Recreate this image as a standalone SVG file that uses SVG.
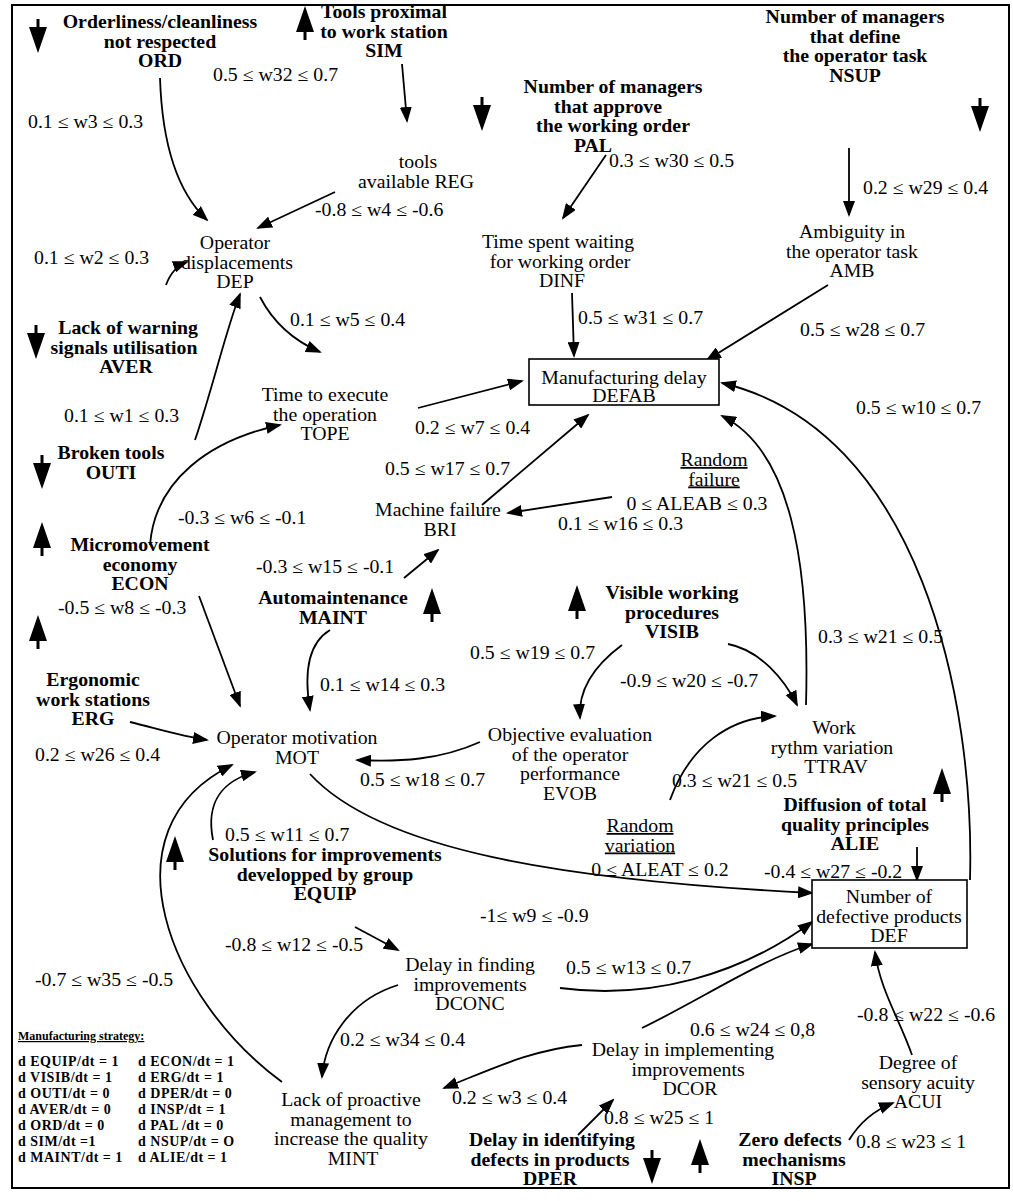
<svg xmlns="http://www.w3.org/2000/svg" xmlns:xlink="http://www.w3.org/1999/xlink" width="1013" height="1201" viewBox="0 0 1013 1201">
<style>
text{font-family:"Liberation Serif","Times New Roman",serif;font-size:18px;fill:#000}
.b{font-weight:bold}
.m{text-anchor:middle}
.u{text-decoration:underline}
.s{font-size:14px;font-weight:bold;letter-spacing:0.5px}
.h{font-size:12px;font-weight:bold;text-decoration:underline}
.c path{fill:none;stroke:#000;stroke-width:1.8}
.box{fill:#fff;stroke:#000;stroke-width:1.6}
</style>
<defs>
<marker id="a" markerUnits="userSpaceOnUse" markerWidth="16" markerHeight="12" refX="14" refY="6" orient="auto"><path d="M0,0 L16,6 L0,12 Z" fill="#000"/></marker>
<path id="up" d="M0,-18 L9,8 L-9,8 Z M-1.5,8 H1.5 V16 H-1.5 Z" fill="#000"/>
<path id="dn" d="M0,18 L9,-8 L-9,-8 Z M-1.5,-8 H1.5 V-16 H-1.5 Z" fill="#000"/>
</defs>
<rect width="1013" height="1201" fill="#fff"/>
<rect x="12" y="5" width="997" height="1183" fill="none" stroke="#000" stroke-width="2"/>

<g id="indicators">
<use href="#dn" x="38" y="35"/>
<use href="#up" x="305" y="24"/>
<use href="#dn" x="482" y="113"/>
<use href="#dn" x="980" y="114"/>
<use href="#dn" x="36" y="341"/>
<use href="#dn" x="42" y="471"/>
<use href="#up" x="42" y="540"/>
<use href="#up" x="432" y="606"/>
<use href="#up" x="577" y="603"/>
<use href="#up" x="38" y="633"/>
<use href="#up" x="942" y="786"/>
<use href="#up" x="175" y="854"/>
<use href="#dn" x="652" y="1166"/>
<use href="#up" x="700" y="1157"/>
</g>

<g id="connectors" class="c">
<path d="M402,64 L407,121" marker-end="url(#a)"/>
<path d="M160,78 C162,140 175,190 207,220" marker-end="url(#a)"/>
<path d="M335,192 L258,228" marker-end="url(#a)"/>
<path d="M166,285 C170,274 176,266 187,262" marker-end="url(#a)"/>
<path d="M195,440 C212,390 226,330 240,294" marker-end="url(#a)"/>
<path d="M260,297 C272,320 292,340 320,352" marker-end="url(#a)"/>
<path d="M418,408 L522,381" marker-end="url(#a)"/>
<path d="M482,505 L588,415" marker-end="url(#a)"/>
<path d="M612,497 L508,513" marker-end="url(#a)"/>
<path d="M150,545 C155,480 210,440 280,425" marker-end="url(#a)"/>
<path d="M404,578 L438,550" marker-end="url(#a)"/>
<path d="M199,596 L240,706" marker-end="url(#a)"/>
<path d="M330,630 C305,645 305,680 310,710" marker-end="url(#a)"/>
<path d="M130,722 C155,728 180,736 207,740" marker-end="url(#a)"/>
<path d="M622,645 C595,665 578,690 580,718" marker-end="url(#a)"/>
<path d="M728,644 C760,650 785,680 797,705" marker-end="url(#a)"/>
<path d="M480,742 C440,760 400,762 357,760" marker-end="url(#a)"/>
<path d="M670,800 C690,745 730,718 775,716" marker-end="url(#a)"/>
<path d="M806,705 C810,560 790,450 722,416" marker-end="url(#a)"/>
<path d="M970,880 C975,700 920,430 722,383" marker-end="url(#a)"/>
<path d="M917,847 L917,880" marker-end="url(#a)"/>
<path d="M310,774 C380,850 560,880 812,893" marker-end="url(#a)"/>
<path d="M213,840 C205,800 225,780 255,772" marker-end="url(#a)"/>
<path d="M282,1082 C170,1000 100,830 232,765" marker-end="url(#a)"/>
<path d="M355,927 L398,950" marker-end="url(#a)"/>
<path d="M560,988 C650,1000 740,975 812,922" marker-end="url(#a)"/>
<path d="M642,1028 C700,1000 760,960 812,944" marker-end="url(#a)"/>
<path d="M912,1055 C900,1020 880,990 875,952" marker-end="url(#a)"/>
<path d="M398,985 C350,1000 325,1040 322,1077" marker-end="url(#a)"/>
<path d="M582,1045 C530,1050 490,1070 444,1088" marker-end="url(#a)"/>
<path d="M578,1135 L613,1100" marker-end="url(#a)"/>
<path d="M849,1140 C860,1122 875,1110 893,1103" marker-end="url(#a)"/>
<path d="M606,155 L563,218" marker-end="url(#a)"/>
<path d="M849,148 L849,215" marker-end="url(#a)"/>
<path d="M572,293 L574,356" marker-end="url(#a)"/>
<path d="M828,285 L707,360" marker-end="url(#a)"/>
</g>

<g id="labels">
<text transform="matrix(1.1,0,0,1,213,81)">0.5 ≤ w32 ≤ 0.7</text>
<text transform="matrix(1.1,0,0,1,28,128)">0.1 ≤ w3 ≤ 0.3</text>
<text transform="matrix(1.1,0,0,1,315,216)">-0.8 ≤ w4 ≤ -0.6</text>
<text transform="matrix(1.1,0,0,1,609,167)">0.3 ≤ w30 ≤ 0.5</text>
<text transform="matrix(1.1,0,0,1,863,194)">0.2 ≤ w29 ≤ 0.4</text>
<text transform="matrix(1.1,0,0,1,34,264)">0.1 ≤ w2 ≤ 0.3</text>
<text transform="matrix(1.1,0,0,1,290,326)">0.1 ≤ w5 ≤ 0.4</text>
<text transform="matrix(1.1,0,0,1,578,324)">0.5 ≤ w31 ≤ 0.7</text>
<text transform="matrix(1.1,0,0,1,800,336)">0.5 ≤ w28 ≤ 0.7</text>
<text transform="matrix(1.1,0,0,1,856,414)">0.5 ≤ w10 ≤ 0.7</text>
<text transform="matrix(1.1,0,0,1,64,422)">0.1 ≤ w1 ≤ 0.3</text>
<text transform="matrix(1.1,0,0,1,415,434)">0.2 ≤ w7 ≤ 0.4</text>
<text transform="matrix(1.1,0,0,1,385,475)">0.5 ≤ w17 ≤ 0.7</text>
<text transform="matrix(1.1,0,0,1,558,530)">0.1 ≤ w16 ≤ 0.3</text>
<text transform="matrix(1.1,0,0,1,178,524)">-0.3 ≤ w6 ≤ -0.1</text>
<text transform="matrix(1.1,0,0,1,256,573)">-0.3 ≤ w15 ≤ -0.1</text>
<text transform="matrix(1.1,0,0,1,58,614)">-0.5 ≤ w8 ≤ -0.3</text>
<text transform="matrix(1.1,0,0,1,818,643)">0.3 ≤ w21 ≤ 0.5</text>
<text transform="matrix(1.1,0,0,1,470,659)">0.5 ≤ w19 ≤ 0.7</text>
<text transform="matrix(1.1,0,0,1,620,687)">-0.9 ≤ w20 ≤ -0.7</text>
<text transform="matrix(1.1,0,0,1,320,691)">0.1 ≤ w14 ≤ 0.3</text>
<text transform="matrix(1.1,0,0,1,35,761)">0.2 ≤ w26 ≤ 0.4</text>
<text transform="matrix(1.1,0,0,1,360,786)">0.5 ≤ w18 ≤ 0.7</text>
<text transform="matrix(1.1,0,0,1,672,787)">0.3 ≤ w21 ≤ 0.5</text>
<text transform="matrix(1.1,0,0,1,225,841)">0.5 ≤ w11 ≤ 0.7</text>
<text transform="matrix(1.1,0,0,1,764,878)">-0.4 ≤ w27 ≤ -0.2</text>
<text transform="matrix(1.1,0,0,1,480,922)">-1≤ w9 ≤ -0.9</text>
<text transform="matrix(1.1,0,0,1,225,951)">-0.8 ≤ w12 ≤ -0.5</text>
<text transform="matrix(1.1,0,0,1,566,974)">0.5 ≤ w13 ≤ 0.7</text>
<text transform="matrix(1.1,0,0,1,35,986)">-0.7 ≤ w35 ≤ -0.5</text>
<text transform="matrix(1.1,0,0,1,857,1021)">-0.8 ≤ w22 ≤ -0.6</text>
<text transform="matrix(1.1,0,0,1,690,1036)">0.6 ≤ w24 ≤ 0,8</text>
<text transform="matrix(1.1,0,0,1,340,1046)">0.2 ≤ w34 ≤ 0.4</text>
<text transform="matrix(1.1,0,0,1,452,1104)">0.2 ≤ w3 ≤ 0.4</text>
<text transform="matrix(1.1,0,0,1,604,1124)">0.8 ≤ w25 ≤ 1</text>
<text transform="matrix(1.1,0,0,1,856,1148)">0.8 ≤ w23 ≤ 1</text>
</g>

<g id="ORD" class="b m"><text transform="matrix(1.1,0,0,1,160,28)">Orderliness/cleanliness</text><text transform="matrix(1.1,0,0,1,160,47.5)">not respected</text><text transform="matrix(1.1,0,0,1,160,67)">ORD</text></g>
<g id="SIM" class="b m"><text transform="matrix(1.1,0,0,1,384,18)">Tools proximal</text><text transform="matrix(1.1,0,0,1,384,37.5)">to work station</text><text transform="matrix(1.1,0,0,1,384,57)">SIM</text></g>
<g id="PAL" class="b m"><text transform="matrix(1.1,0,0,1,613,93)">Number of managers</text><text transform="matrix(1.1,0,0,1,608,112.5)">that approve</text><text transform="matrix(1.1,0,0,1,613,132)">the working order</text><text transform="matrix(1.1,0,0,1,593,151.5)">PAL</text></g>
<g id="NSUP" class="b m"><text transform="matrix(1.1,0,0,1,855,23)">Number of managers</text><text transform="matrix(1.1,0,0,1,855,42.5)">that define</text><text transform="matrix(1.1,0,0,1,855,62)">the operator task</text><text transform="matrix(1.1,0,0,1,855,81.5)">NSUP</text></g>
<g id="REG" class="m"><text transform="matrix(1.1,0,0,1,418,168)">tools</text><text transform="matrix(1.1,0,0,1,416,187.5)">available REG</text></g>
<g id="AMB" class="m"><text transform="matrix(1.1,0,0,1,852,238)">Ambiguity in</text><text transform="matrix(1.1,0,0,1,852,257.5)">the operator task</text><text transform="matrix(1.1,0,0,1,852,277)">AMB</text></g>
<g id="DINF" class="m"><text transform="matrix(1.1,0,0,1,558,248)">Time spent waiting</text><text transform="matrix(1.1,0,0,1,560,267.5)">for working order</text><text transform="matrix(1.1,0,0,1,562,287)">DINF</text></g>
<g id="DEP" class="m"><text transform="matrix(1.1,0,0,1,235,249)">Operator</text><text transform="matrix(1.1,0,0,1,237,268.5)">displacements</text><text transform="matrix(1.1,0,0,1,235,288)">DEP</text></g>
<g id="DEFAB"><rect class="box" x="529" y="359" width="190" height="46"/><text class="m" transform="matrix(1.1,0,0,1,624,384)">Manufacturing delay</text><text class="m" transform="matrix(1.1,0,0,1,624,402)">DEFAB</text></g>
<g id="AVER" class="b m"><text transform="matrix(1.1,0,0,1,128,334)">Lack of warning</text><text transform="matrix(1.1,0,0,1,124,353.5)">signals utilisation</text><text transform="matrix(1.1,0,0,1,126,373)">AVER</text></g>
<g id="OUTI" class="b m"><text transform="matrix(1.1,0,0,1,111,459)">Broken tools</text><text transform="matrix(1.1,0,0,1,111,478.5)">OUTI</text></g>
<g id="TOPE" class="m"><text transform="matrix(1.1,0,0,1,325,401)">Time to execute</text><text transform="matrix(1.1,0,0,1,325,420.5)">the operation</text><text transform="matrix(1.1,0,0,1,325,440)">TOPE</text></g>
<g id="BRI" class="m"><text transform="matrix(1.1,0,0,1,438,516)">Machine failure</text><text transform="matrix(1.1,0,0,1,440,535.5)">BRI</text></g>
<g id="ALEAB" class="m"><text class="u" transform="matrix(1.1,0,0,1,714,466)">Random</text><text class="u" transform="matrix(1.1,0,0,1,714,485.5)">failure</text><text transform="matrix(1.1,0,0,1,697,510)">0 ≤ ALEAB ≤ 0.3</text></g>
<g id="ECON" class="b m"><text transform="matrix(1.1,0,0,1,140,551)">Micromovement</text><text transform="matrix(1.1,0,0,1,140,570.5)">economy</text><text transform="matrix(1.1,0,0,1,140,590)">ECON</text></g>
<g id="MAINT" class="b m"><text transform="matrix(1.1,0,0,1,333,604)">Automaintenance</text><text transform="matrix(1.1,0,0,1,333,623.5)">MAINT</text></g>
<g id="VISIB" class="b m"><text transform="matrix(1.1,0,0,1,672,599)">Visible working</text><text transform="matrix(1.1,0,0,1,672,618.5)">procedures</text><text transform="matrix(1.1,0,0,1,672,638)">VISIB</text></g>
<g id="ERG" class="b m"><text transform="matrix(1.1,0,0,1,93,686)">Ergonomic</text><text transform="matrix(1.1,0,0,1,93,705.5)">work stations</text><text transform="matrix(1.1,0,0,1,93,725)">ERG</text></g>
<g id="MOT" class="m"><text transform="matrix(1.1,0,0,1,297,744)">Operator motivation</text><text transform="matrix(1.1,0,0,1,297,763.5)">MOT</text></g>
<g id="EVOB" class="m"><text transform="matrix(1.1,0,0,1,570,741)">Objective evaluation</text><text transform="matrix(1.1,0,0,1,570,760.5)">of the operator</text><text transform="matrix(1.1,0,0,1,570,780)">performance</text><text transform="matrix(1.1,0,0,1,570,799.5)">EVOB</text></g>
<g id="TTRAV" class="m"><text transform="matrix(1.1,0,0,1,834,734)">Work</text><text transform="matrix(1.1,0,0,1,832,753.5)">rythm variation</text><text transform="matrix(1.1,0,0,1,836,773)">TTRAV</text></g>
<g id="ALEAT" class="m"><text class="u" transform="matrix(1.1,0,0,1,640,832)">Random</text><text class="u" transform="matrix(1.1,0,0,1,640,851.5)">variation</text><text transform="matrix(1.1,0,0,1,660,876)">0 ≤ ALEAT ≤ 0.2</text></g>
<g id="ALIE" class="b m"><text transform="matrix(1.1,0,0,1,855,811)">Diffusion of total</text><text transform="matrix(1.1,0,0,1,855,830.5)">quality principles</text><text transform="matrix(1.1,0,0,1,855,850)">ALIE</text></g>
<g id="EQUIP" class="b m"><text transform="matrix(1.1,0,0,1,325,861)">Solutions for improvements</text><text transform="matrix(1.1,0,0,1,325,880.5)">developped by group</text><text transform="matrix(1.1,0,0,1,325,900)">EQUIP</text></g>
<g id="DEF"><rect class="box" x="812" y="880" width="155" height="68"/><text class="m" transform="matrix(1.1,0,0,1,889,903)">Number of</text><text class="m" transform="matrix(1.1,0,0,1,889,922.5)">defective products</text><text class="m" transform="matrix(1.1,0,0,1,889,942)">DEF</text></g>
<g id="DCONC" class="m"><text transform="matrix(1.1,0,0,1,470,971)">Delay in finding</text><text transform="matrix(1.1,0,0,1,470,990.5)">improvements</text><text transform="matrix(1.1,0,0,1,470,1010)">DCONC</text></g>
<g id="DCOR" class="m"><text transform="matrix(1.1,0,0,1,683,1056)">Delay in implementing</text><text transform="matrix(1.1,0,0,1,688,1075.5)">improvements</text><text transform="matrix(1.1,0,0,1,690,1095)">DCOR</text></g>
<g id="ACUI" class="m"><text transform="matrix(1.1,0,0,1,918,1069)">Degree of</text><text transform="matrix(1.1,0,0,1,918,1088.5)">sensory acuity</text><text transform="matrix(1.1,0,0,1,918,1108)">ACUI</text></g>
<g id="MINT" class="m"><text transform="matrix(1.1,0,0,1,351,1106)">Lack of proactive</text><text transform="matrix(1.1,0,0,1,351,1125.5)">management to</text><text transform="matrix(1.1,0,0,1,351,1145)">increase the quality</text><text transform="matrix(1.1,0,0,1,353,1164.5)">MINT</text></g>
<g id="DPER" class="b m"><text transform="matrix(1.1,0,0,1,552,1146)">Delay in identifying</text><text transform="matrix(1.1,0,0,1,550,1165.5)">defects in products</text><text transform="matrix(1.1,0,0,1,550,1185)">DPER</text></g>
<g id="INSP" class="b m"><text transform="matrix(1.1,0,0,1,790,1146)">Zero defects</text><text transform="matrix(1.1,0,0,1,794,1165.5)">mechanisms</text><text transform="matrix(1.1,0,0,1,794,1185)">INSP</text></g>

<g id="strategy">
<text class="h" x="18" y="1040">Manufacturing strategy:</text>
<text class="s" x="18" y="1066">d EQUIP/dt = 1</text><text class="s" x="138" y="1066">d ECON/dt = 1</text>
<text class="s" x="18" y="1082">d VISIB/dt = 1</text><text class="s" x="138" y="1082">d ERG/dt = 1</text>
<text class="s" x="18" y="1098">d OUTI/dt = 0</text><text class="s" x="138" y="1098">d DPER/dt = 0</text>
<text class="s" x="18" y="1114">d AVER/dt = 0</text><text class="s" x="138" y="1114">d INSP/dt = 1</text>
<text class="s" x="18" y="1130">d ORD/dt = 0</text><text class="s" x="138" y="1130">d PAL /dt = 0</text>
<text class="s" x="18" y="1146">d SIM/dt =1</text><text class="s" x="138" y="1146">d NSUP/dt = O</text>
<text class="s" x="18" y="1162">d MAINT/dt = 1</text><text class="s" x="138" y="1162">d ALIE/dt = 1</text>
</g>
</svg>
